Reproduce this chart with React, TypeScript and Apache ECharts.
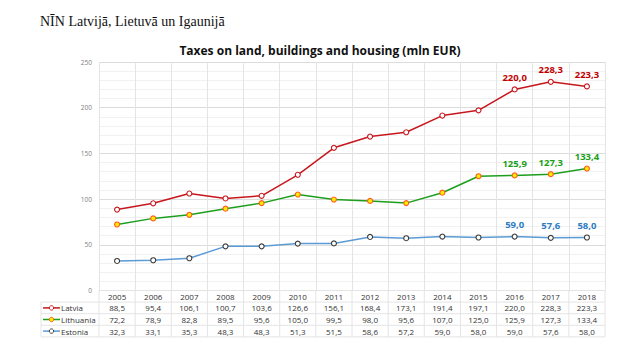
import React, { useEffect, useRef } from "react";
import * as echarts from "echarts";

const years = ["2005","2006","2007","2008","2009","2010","2011","2012","2013","2014","2015","2016","2017","2018"];
const latvia = [88.5,95.4,106.1,100.7,103.6,126.6,156.1,168.4,173.1,191.4,197.1,220.0,228.3,223.3];
const lithuania = [72.2,78.9,82.8,89.5,95.6,105.0,99.5,98.0,95.6,107.0,125.0,125.9,127.3,133.4];
const estonia = [32.3,33.1,35.3,48.3,48.3,51.3,51.5,58.6,57.2,59.0,58.0,59.0,57.6,58.0];
const seriesNames = ["Latvia", "Lithuania", "Estonia"];

const fmt = (v: number) => v.toFixed(1).replace(".", ",");

export default function App() {
  const ref = useRef<HTMLDivElement>(null);
  useEffect(() => {
    document.body.style.margin = "0";
    const chart = echarts.init(ref.current!, null, { renderer: "svg" });
    const L = 99, R = 605, TOP = 62, BOT = 290.5, ROW = 11.6, TL = 41;
    const colW = (R - L) / years.length;
    const styles = [
      { line: "#C8161D", fill: "#ffffff", border: "#C8161D", label: "#C00000" },
      { line: "#1E9E1E", fill: "#FFEA00", border: "#FF5A1E", label: "#19A019" },
      { line: "#5B9BD5", fill: "#ffffff", border: "#3A3A3A", label: "#2E7BC4" },
    ];
    const datasets = [latvia, lithuania, estonia];
    const gridCol = "#e4e4e4";
    const txt = "#333333";
    const graphic: any[] = [];
    for (let k = 1; k <= 4; k++) {
      graphic.push({ type: "line", shape: { x1: TL, y1: BOT + k * ROW, x2: R, y2: BOT + k * ROW }, style: { stroke: gridCol, lineWidth: 1 }, silent: true });
    }
    for (let i = 0; i <= years.length; i++) {
      graphic.push({ type: "line", shape: { x1: L + i * colW, y1: BOT, x2: L + i * colW, y2: BOT + 4 * ROW }, style: { stroke: gridCol, lineWidth: 1 }, silent: true });
    }
    graphic.push({ type: "line", shape: { x1: TL, y1: BOT + ROW, x2: TL, y2: BOT + 4 * ROW }, style: { stroke: gridCol, lineWidth: 1 }, silent: true });
    seriesNames.forEach((n, k) => {
      const cy = BOT + ROW * (k + 1.5);
      const s = styles[k];
      graphic.push({ type: "line", shape: { x1: 43, y1: cy, x2: 60, y2: cy }, style: { stroke: s.line, lineWidth: 1.5 }, silent: true });
      graphic.push({ type: "circle", shape: { cx: 51.5, cy, r: 2.2 }, style: { fill: s.fill, stroke: s.border, lineWidth: 1 }, silent: true });
      graphic.push({ type: "text", x: 61, y: cy, style: { text: n, fontSize: 8, fontFamily: "Open Sans", fill: txt, textVerticalAlign: "middle" }, silent: true });
    });
    graphic.push({ type: "text", x: 40, y: 21, style: { text: "NĪN Latvijā, Lietuvā un Igaunijā", fontSize: 14, fontFamily: "Liberation Serif", fill: "#111", textVerticalAlign: "middle" }, silent: true });

    chart.setOption({
      animation: false,
      backgroundColor: "#ffffff",
      title: {
        text: "Taxes on land, buildings and housing (mln EUR)",
        left: "center",
        top: 39,
        textStyle: { fontSize: 12, fontWeight: "bold", fontFamily: "Open Sans", color: "#111" },
      },
      grid: { left: L, right: 640 - R, top: TOP, bottom: 360 - BOT },
      xAxis: {
        type: "category",
        data: years,
        boundaryGap: true,
        axisLine: { show: true, lineStyle: { color: gridCol } },
        axisTick: { show: false },
        splitLine: { show: true, lineStyle: { color: gridCol } },
        axisLabel: {
          interval: 0,
          margin: 0,
          formatter: (val: string, idx: number) =>
            `{y|${val}}\n{v|${fmt(latvia[idx])}}\n{v|${fmt(lithuania[idx])}}\n{v|${fmt(estonia[idx])}}`,
          rich: {
            y: { fontSize: 8, fontFamily: "Open Sans", color: txt, lineHeight: ROW, height: ROW },
            v: { fontSize: 8, fontFamily: "Open Sans", color: txt, lineHeight: ROW, height: ROW },
          },
        },
      },
      yAxis: {
        type: "value",
        min: 0,
        max: 250,
        interval: 50,
        axisLine: { show: false },
        axisTick: { show: false },
        axisLabel: { fontSize: 6.5, fontFamily: "Open Sans", color: "#7f7f7f", margin: 7 },
        splitLine: { show: true, lineStyle: { color: "#dcdcdc" } },
        minorTick: { show: false, splitNumber: 5 },
        minorSplitLine: { show: true, lineStyle: { color: "#f1f1f1" } },
      },
      graphic,
      series: datasets.map((d, k) => ({
        name: seriesNames[k],
        type: "line",
        data: d.map((v, i) => (i >= 11 ? { value: v, label: { show: true } } : v)),
        symbol: "circle",
        symbolSize: 5,
        showAllSymbol: true,
        lineStyle: { color: styles[k].line, width: 1.5 },
        itemStyle: { color: styles[k].fill, borderColor: styles[k].border, borderWidth: 1.1 },
        label: {
          show: false,
          position: "top",
          distance: 4,
          formatter: (p: any) => fmt(p.value),
          fontSize: 9.5,
          fontWeight: "bold",
          fontFamily: "Open Sans",
          color: styles[k].label,
        },
        emphasis: { disabled: true },
      })),
    });
    return () => chart.dispose();
  }, []);
  return <div ref={ref} style={{ position: "absolute", left: 0, top: 0, width: 640, height: 360 }} />;
}
